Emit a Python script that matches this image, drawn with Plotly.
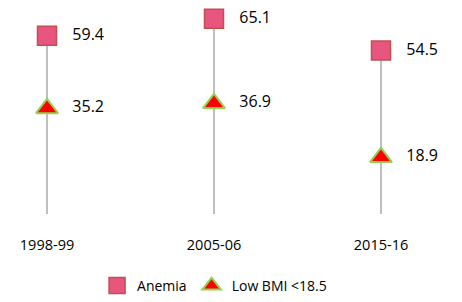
import plotly.graph_objects as go

categories = ["1998-99", "2005-06", "2015-16"]
anemia = [59.4, 65.1, 54.5]
low_bmi = [35.2, 36.9, 18.9]

xs = list(range(len(categories)))
FONT = "'Open Sans', sans-serif"

# drop lines from 0 to max value
lx, ly = [], []
for i, (a, b) in enumerate(zip(anemia, low_bmi)):
    lx += [i, i, None]
    ly += [0, max(a, b), None]

fig = go.Figure()
fig.add_trace(go.Scatter(x=lx, y=ly, mode="lines", line=dict(color="#bfbfbf", width=2),
                         showlegend=False, hoverinfo="skip", cliponaxis=False))
fig.add_trace(go.Scatter(
    x=xs, y=anemia, mode="markers+text", name="Anemia", cliponaxis=False,
    marker=dict(symbol="square", size=19, color="#e8567f", line=dict(color="#c0504d", width=1.5)),
    text=["   " + f"{v:.1f}" for v in anemia], textposition="middle right",
    textfont=dict(size=16, color="#000", family=FONT)))
fig.add_trace(go.Scatter(
    x=xs, y=low_bmi, mode="markers+text", name="Low BMI <18.5", cliponaxis=False,
    marker=dict(symbol="triangle-up", size=19, color="#ff0000", line=dict(color="#92d050", width=2)),
    text=["   " + f"{v:.1f}" for v in low_bmi], textposition="middle right",
    textfont=dict(size=16, color="#000", family=FONT)))

fig.update_layout(
    width=454, height=294,
    margin=dict(l=0, r=0, t=2, b=88),
    paper_bgcolor="white", plot_bgcolor="white",
    font=dict(family=FONT, size=13, color="#000"),
    xaxis=dict(range=[-39/167, 2 + 81/167], tickmode="array", tickvals=xs, ticktext=categories,
               showgrid=False, zeroline=False, showline=False, ticks="outside", ticklen=18,
               tickcolor="rgba(0,0,0,0)", tickfont=dict(size=14.5)),
    yaxis=dict(range=[0, 204/3], visible=False),
    legend=dict(orientation="h", x=0.455, xanchor="center", y=-0.353, yanchor="middle",
                font=dict(size=14), itemwidth=30),
    showlegend=True,
)
fig.write_html("out.html")
